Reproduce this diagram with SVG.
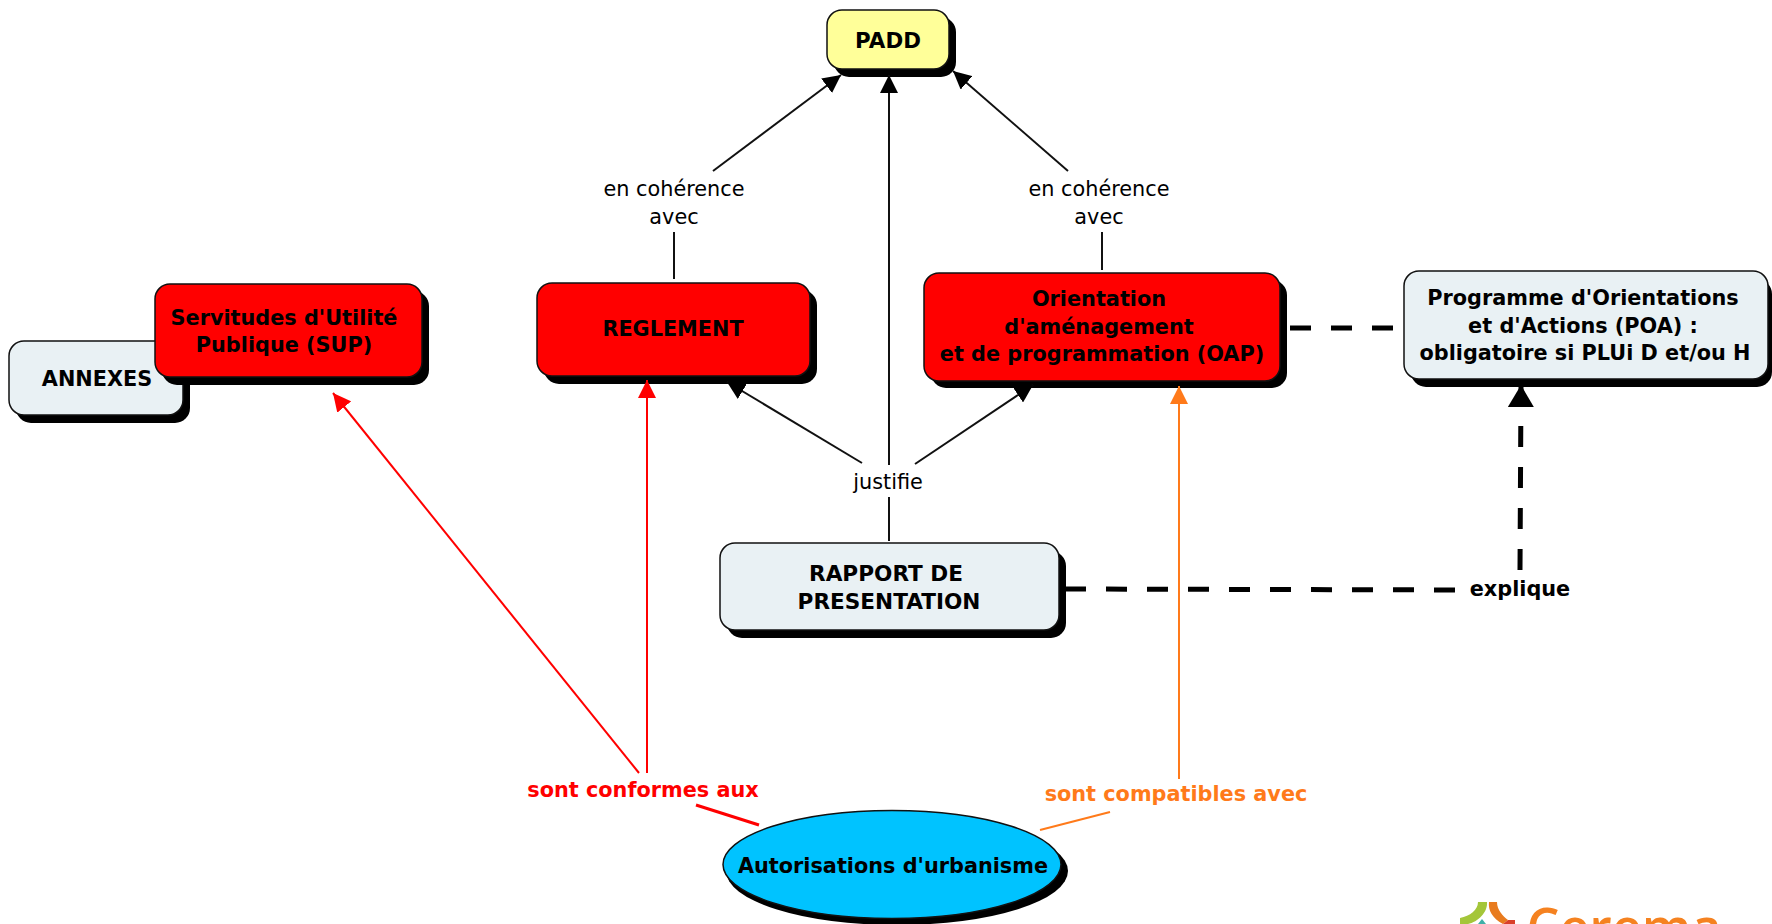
<svg xmlns="http://www.w3.org/2000/svg" width="1772" height="924" viewBox="0 0 1772 924">
<style>
text{font-family:"DejaVu Sans",Verdana,sans-serif;font-size:20.8px;text-anchor:middle;fill:#000}
.b{font-weight:bold}
.box{stroke:#111;stroke-width:1.5}
.sh{fill:#000}
.w{fill:#e9f1f4}.r{fill:#f00}.y{fill:#ffff99}
.k{stroke:#111;stroke-width:2;fill:none}
.d{stroke:#000;stroke-width:5;fill:none;stroke-dasharray:21 20}
.rl{stroke:#f00;stroke-width:2;fill:none}
.ol{stroke:#ff7a1a;stroke-width:2;fill:none}
</style>
<defs>
<marker id="ak" markerUnits="userSpaceOnUse" markerWidth="20" markerHeight="18" refX="18" refY="9" orient="auto"><path d="M0 0L18 9L0 18z" fill="#000"/></marker>
<marker id="ab" markerUnits="userSpaceOnUse" markerWidth="24" markerHeight="26" refX="22" refY="13" orient="auto"><path d="M0 0L22 13L0 26z" fill="#000"/></marker>
<marker id="ar" markerUnits="userSpaceOnUse" markerWidth="20" markerHeight="18" refX="18" refY="9" orient="auto"><path d="M0 0L18 9L0 18z" fill="#f00"/></marker>
<marker id="ao" markerUnits="userSpaceOnUse" markerWidth="20" markerHeight="18" refX="18" refY="9" orient="auto"><path d="M0 0L18 9L0 18z" fill="#ff7a1a"/></marker>
</defs>
<g id="annexes"><rect class="sh" x="16" y="348" width="174" height="75" rx="15"/><rect class="box w" x="9" y="341" width="174" height="74" rx="15"/><text class="b" x="97" y="385.5">ANNEXES</text></g>
<g id="sup"><rect class="sh" x="162" y="291" width="267" height="94" rx="15"/><rect class="box r" x="155" y="284" width="267" height="93" rx="15"/><text class="b" x="284" y="324.5">Servitudes d'Utilité</text><text class="b" x="284" y="352">Publique (SUP)</text></g>
<g id="padd"><rect class="sh" x="834" y="17" width="122" height="60" rx="15"/><rect class="box y" x="827" y="10" width="122" height="59" rx="15"/><text class="b" x="888" y="48" style="font-size:21.4px">PADD</text></g>
<g id="reglement"><rect class="sh" x="544" y="290" width="273" height="94" rx="15"/><rect class="box r" x="537" y="283" width="273" height="93" rx="15"/><text class="b" x="673" y="336">REGLEMENT</text></g>
<g id="oap"><rect class="sh" x="931" y="280" width="356" height="108" rx="15"/><rect class="box r" x="924" y="273" width="356" height="108" rx="15"/><text class="b" x="1099" y="306">Orientation</text><text class="b" x="1099" y="334">d'aménagement</text><text class="b" x="1102" y="361">et de programmation (OAP)</text></g>
<g id="poa"><rect class="sh" x="1411" y="279" width="361" height="108" rx="15"/><rect class="box w" x="1404" y="271" width="364" height="108" rx="15"/><text class="b" x="1583" y="304.5">Programme d'Orientations</text><text class="b" x="1583" y="332.5">et d'Actions (POA) :</text><text class="b" x="1585" y="360">obligatoire si PLUi D et/ou H</text></g>
<g id="rapport"><rect class="sh" x="727" y="551" width="339" height="87" rx="15"/><rect class="box w" x="720" y="543" width="339" height="87" rx="15"/><text class="b" x="886" y="580.5" style="font-size:21.6px">RAPPORT DE</text><text class="b" x="889" y="608.5" style="font-size:21.6px">PRESENTATION</text></g>
<g id="autorisations"><ellipse class="sh" cx="897" cy="871" rx="171" ry="54"/><ellipse class="box" fill="#00c3ff" cx="892" cy="864.5" rx="169" ry="54"/><text class="b" x="893" y="873">Autorisations d'urbanisme</text></g>
<g id="connectors">
<path class="k" d="M713 171L841 75" marker-end="url(#ak)"/>
<path class="k" d="M1068 171L953 71" marker-end="url(#ak)"/>
<path class="k" d="M889 465V75" marker-end="url(#ak)"/>
<path class="k" d="M674 232V279"/>
<path class="k" d="M1102 232V270"/>
<path class="k" d="M862 463L727 382" marker-end="url(#ak)"/>
<path class="k" d="M915 464L1033 385" marker-end="url(#ak)"/>
<path class="k" d="M889 497V541"/>
<path class="d" d="M1290 328H1396"/>
<path class="d" d="M1065 589L1465 590"/>
<path class="d" d="M1520 570L1521 385" marker-end="url(#ab)"/>
<path class="rl" d="M639 773L333 393" marker-end="url(#ar)"/>
<path class="rl" d="M647 773V380" marker-end="url(#ar)"/>
<path class="rl" style="stroke-width:3" d="M696 805L759 825"/>
<path class="ol" d="M1179 779V386" marker-end="url(#ao)"/>
<path class="ol" d="M1110 812L1040 830"/>
</g>
<g id="labels">
<text x="674" y="196">en cohérence</text><text x="674" y="223.5">avec</text>
<text x="1099" y="196">en cohérence</text><text x="1099" y="223.5">avec</text>
<text x="888" y="488.5">justifie</text>
<text class="b" x="1520" y="596">explique</text>
<text class="b" x="643" y="797" style="fill:#f00">sont conformes aux</text>
<text class="b" x="1176" y="801" style="fill:#ff7a1a">sont compatibles avec</text>
</g>
<g id="logo">
<path d="M1478 902H1487C1488 912 1478 922 1468 924H1460V918C1470 916 1478 910 1478 902Z" fill="#a4c639"/>
<path d="M1489 902H1497C1497 910 1503 916 1508 920L1503 924C1492 918 1488 910 1489 902Z" fill="#e87b1e"/>
<path d="M1503 924L1508 920H1515V924Z" fill="#d9402a"/>
<path d="M1478 924L1482 919L1486 924Z" fill="#3fb0a8"/>
<text x="1624" y="946" style="font-size:52px;font-weight:600;fill:#f58220;font-family:'Open Sans',sans-serif">Cerema</text>
</g>
</svg>
